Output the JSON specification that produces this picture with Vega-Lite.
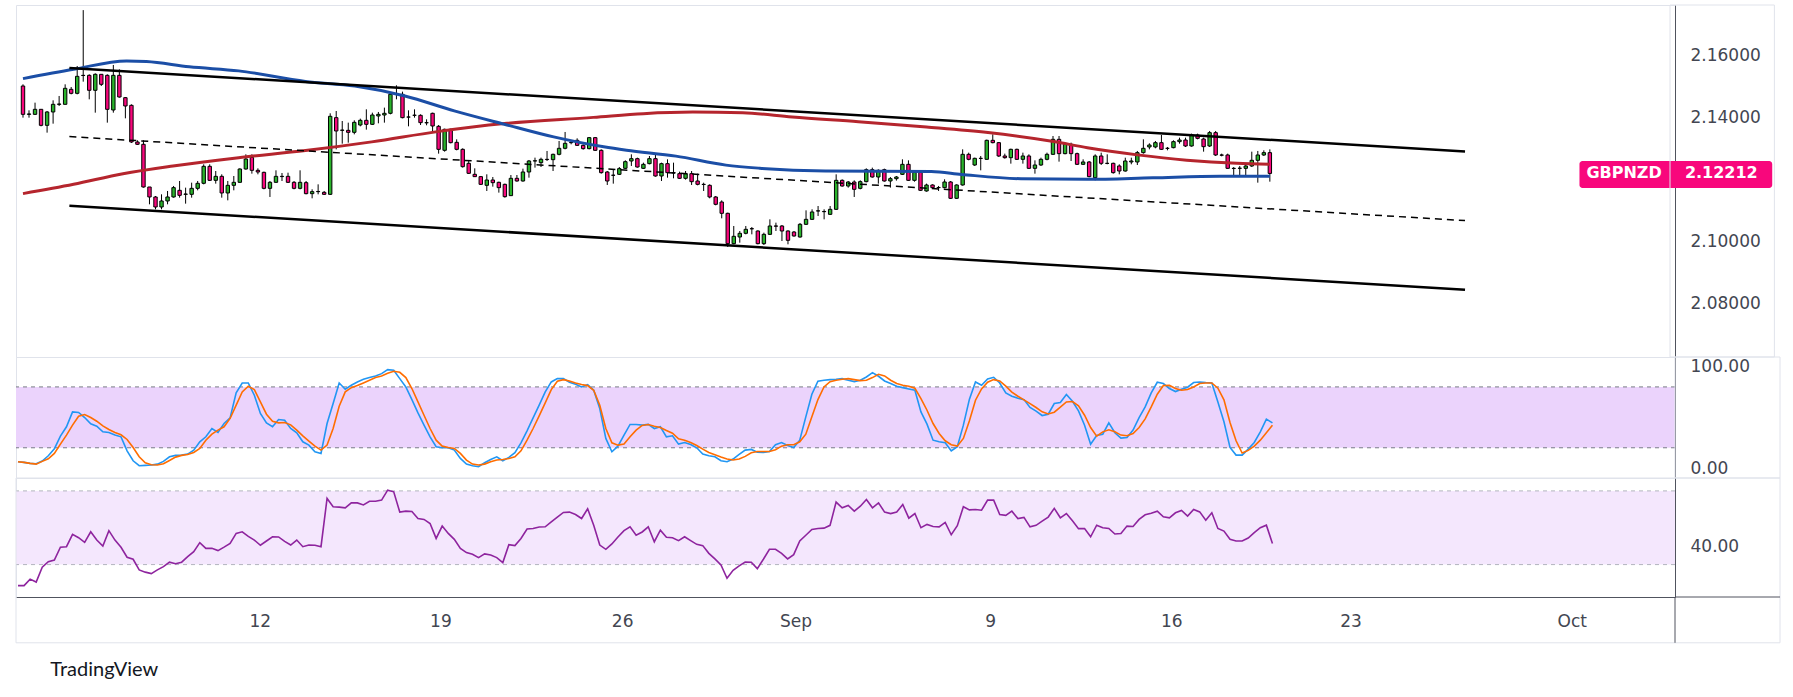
{
  "$schema": "https://vega.github.io/schema/vega-lite/v6.json",
  "background": "#ffffff",
  "padding": {"left": 14, "top": 4, "right": 5, "bottom": 5},
  "spacing": 0,
  "bounds": "flush",
  "title": {
    "text": "TradingView",
    "orient": "bottom",
    "anchor": "start",
    "font": "Lato",
    "fontSize": 20,
    "fontWeight": "normal",
    "color": "#131722",
    "offset": 16,
    "dx": 36
  },
  "config": {
    "view": {"stroke": "#e0e3eb", "strokeWidth": 1},
    "axis": {
      "labelFont": "DejaVu Sans",
      "labelFontSize": 17,
      "labelColor": "#434651",
      "ticks": false,
      "tickSize": 0,
      "grid": false,
      "domainColor": "#50535e",
      "labelOverlap": false,
      "zindex": 1
    }
  },
  "resolve": {"scale": {"x": "independent", "y": "independent"}},
  "datasets": {
    "bars": [
      {"i":0,"o":2.15032,"h":2.15086,"l":2.14011,"c":2.14118,"k":6.2,"d":6.2,"r":18.6},
      {"i":1,"o":2.14118,"h":2.14247,"l":2.14011,"c":2.1413,"k":5.6,"d":5.6,"r":18.6},
      {"i":2,"o":2.14118,"h":2.14495,"l":2.14097,"c":2.1428,"k":4.6,"d":4.6,"r":22.1},
      {"i":3,"o":2.1428,"h":2.1428,"l":2.13731,"c":2.13763,"k":4.3,"d":3.9,"r":20.5},
      {"i":4,"o":2.13763,"h":2.14226,"l":2.13527,"c":2.14194,"k":6.9,"d":6.6,"r":28.6},
      {"i":5,"o":2.14194,"h":2.1457,"l":2.13817,"c":2.14441,"k":12.1,"d":9.2,"r":31.6},
      {"i":6,"o":2.14441,"h":2.1471,"l":2.14387,"c":2.1445,"k":19.0,"d":14.4,"r":32.5},
      {"i":7,"o":2.14441,"h":2.15086,"l":2.14441,"c":2.14957,"k":31.5,"d":23.6,"r":39.4},
      {"i":8,"o":2.14925,"h":2.15,"l":2.14763,"c":2.14796,"k":40.7,"d":32.5,"r":39.7},
      {"i":9,"o":2.14796,"h":2.15677,"l":2.14763,"c":2.15344,"k":55.4,"d":42.3,"r":46.4},
      {"i":10,"o":2.15376,"h":2.1748,"l":2.15172,"c":2.1537,"k":54.8,"d":51.1,"r":44.6},
      {"i":11,"o":2.15376,"h":2.15409,"l":2.14602,"c":2.14893,"k":49.8,"d":52.8,"r":42.1},
      {"i":12,"o":2.14893,"h":2.15441,"l":2.14172,"c":2.15409,"k":43.6,"d":49.8,"r":47.8},
      {"i":13,"o":2.15409,"h":2.15409,"l":2.15032,"c":2.15086,"k":41.3,"d":46.2,"r":43.3},
      {"i":14,"o":2.15376,"h":2.15409,"l":2.1385,"c":2.1428,"k":35.7,"d":41.6,"r":40.1},
      {"i":15,"o":2.14258,"h":2.1571,"l":2.14172,"c":2.15376,"k":35.1,"d":38.0,"r":48.4},
      {"i":16,"o":2.15376,"h":2.1557,"l":2.14656,"c":2.14677,"k":32.5,"d":35.1,"r":43.3},
      {"i":17,"o":2.14656,"h":2.14677,"l":2.13989,"c":2.14387,"k":30.8,"d":32.8,"r":39.4},
      {"i":18,"o":2.14409,"h":2.14441,"l":2.13194,"c":2.13226,"k":17.0,"d":28.2,"r":34.0},
      {"i":19,"o":2.13226,"h":2.1328,"l":2.13129,"c":2.13151,"k":7.2,"d":20.3,"r":32.9},
      {"i":20,"o":2.13151,"h":2.1328,"l":2.11753,"c":2.11774,"k":2.3,"d":11.1,"r":27.1},
      {"i":21,"o":2.11774,"h":2.11774,"l":2.11215,"c":2.11452,"k":2.6,"d":5.2,"r":25.9},
      {"i":22,"o":2.11452,"h":2.11484,"l":2.11054,"c":2.11129,"k":3.0,"d":3.3,"r":25.1},
      {"i":23,"o":2.11129,"h":2.11538,"l":2.11054,"c":2.11323,"k":3.9,"d":3.0,"r":27.1},
      {"i":24,"o":2.11323,"h":2.11645,"l":2.11215,"c":2.11452,"k":6.6,"d":4.3,"r":28.9},
      {"i":25,"o":2.11452,"h":2.11807,"l":2.1143,"c":2.11753,"k":11.1,"d":7.5,"r":31.3},
      {"i":26,"o":2.11667,"h":2.11968,"l":2.1143,"c":2.11505,"k":12.5,"d":10.8,"r":30.5},
      {"i":27,"o":2.11538,"h":2.11753,"l":2.11237,"c":2.11548,"k":12.8,"d":12.5,"r":31.3},
      {"i":28,"o":2.11538,"h":2.11914,"l":2.1143,"c":2.11731,"k":13.8,"d":13.4,"r":34.3},
      {"i":29,"o":2.11731,"h":2.11968,"l":2.11667,"c":2.11893,"k":17.7,"d":15.4,"r":37.0},
      {"i":30,"o":2.11893,"h":2.12505,"l":2.1186,"c":2.12441,"k":25.9,"d":19.3,"r":41.9},
      {"i":31,"o":2.12441,"h":2.12505,"l":2.11968,"c":2.11989,"k":30.8,"d":27.5,"r":38.8},
      {"i":32,"o":2.11989,"h":2.1229,"l":2.11882,"c":2.12118,"k":39.0,"d":33.4,"r":38.8},
      {"i":33,"o":2.12118,"h":2.12183,"l":2.1143,"c":2.11581,"k":35.1,"d":37.4,"r":37.6},
      {"i":34,"o":2.11581,"h":2.11968,"l":2.11344,"c":2.11828,"k":43.9,"d":40.7,"r":39.5},
      {"i":35,"o":2.11828,"h":2.12129,"l":2.11667,"c":2.11925,"k":49.5,"d":48.9,"r":41.5},
      {"i":36,"o":2.11925,"h":2.12376,"l":2.11914,"c":2.12355,"k":74.1,"d":62.0,"r":46.9},
      {"i":37,"o":2.12355,"h":2.12828,"l":2.12333,"c":2.12678,"k":83.9,"d":75.1,"r":47.8},
      {"i":38,"o":2.12731,"h":2.12828,"l":2.12204,"c":2.12312,"k":83.9,"d":80.7,"r":45.3},
      {"i":39,"o":2.12312,"h":2.12376,"l":2.12183,"c":2.12258,"k":71.8,"d":77.4,"r":43.3},
      {"i":40,"o":2.12247,"h":2.12269,"l":2.11699,"c":2.11731,"k":53.8,"d":65.2,"r":40.5},
      {"i":41,"o":2.11731,"h":2.11968,"l":2.11452,"c":2.11925,"k":44.6,"d":53.1,"r":42.8},
      {"i":42,"o":2.11925,"h":2.12312,"l":2.11914,"c":2.12118,"k":40.7,"d":46.2,"r":45.1},
      {"i":43,"o":2.12118,"h":2.12226,"l":2.11968,"c":2.1211,"k":47.9,"d":44.6,"r":45.0},
      {"i":44,"o":2.12118,"h":2.12236,"l":2.11903,"c":2.11925,"k":47.2,"d":44.9,"r":42.6},
      {"i":45,"o":2.11925,"h":2.11968,"l":2.11699,"c":2.11731,"k":39.0,"d":42.6,"r":40.6},
      {"i":46,"o":2.11731,"h":2.12312,"l":2.11699,"c":2.11925,"k":34.8,"d":37.4,"r":43.3},
      {"i":47,"o":2.11914,"h":2.11968,"l":2.11538,"c":2.11559,"k":25.9,"d":31.8,"r":39.7},
      {"i":48,"o":2.11559,"h":2.11699,"l":2.11409,"c":2.11624,"k":22.6,"d":26.6,"r":40.6},
      {"i":49,"o":2.11624,"h":2.1186,"l":2.11538,"c":2.1163,"k":16.1,"d":21.6,"r":40.5},
      {"i":50,"o":2.11602,"h":2.11645,"l":2.11516,"c":2.11538,"k":14.4,"d":17.7,"r":39.7},
      {"i":51,"o":2.11538,"h":2.14151,"l":2.11516,"c":2.14054,"k":43.9,"d":22.6,"r":65.9},
      {"i":52,"o":2.14011,"h":2.14226,"l":2.12989,"c":2.13581,"k":63.6,"d":39.0,"r":61.4},
      {"i":53,"o":2.13602,"h":2.13903,"l":2.13172,"c":2.1361,"k":83.9,"d":61.0,"r":61.2},
      {"i":54,"o":2.13602,"h":2.1385,"l":2.13204,"c":2.13538,"k":77.7,"d":75.1,"r":60.8},
      {"i":55,"o":2.13538,"h":2.13925,"l":2.13473,"c":2.1386,"k":81.6,"d":79.3,"r":63.5},
      {"i":56,"o":2.13774,"h":2.13979,"l":2.13731,"c":2.13925,"k":84.9,"d":81.3,"r":63.5},
      {"i":57,"o":2.13925,"h":2.1428,"l":2.13624,"c":2.13796,"k":87.5,"d":83.9,"r":62.4},
      {"i":58,"o":2.13796,"h":2.14172,"l":2.13774,"c":2.14097,"k":89.2,"d":86.6,"r":64.4},
      {"i":59,"o":2.14065,"h":2.14194,"l":2.13828,"c":2.14118,"k":90.8,"d":89.2,"r":64.4},
      {"i":60,"o":2.14097,"h":2.14334,"l":2.1385,"c":2.14151,"k":93.1,"d":90.8,"r":65.0},
      {"i":61,"o":2.14151,"h":2.14785,"l":2.14118,"c":2.14764,"k":97.0,"d":93.4,"r":70.4},
      {"i":62,"o":2.14764,"h":2.15054,"l":2.14602,"c":2.1477,"k":96.4,"d":95.4,"r":69.5},
      {"i":63,"o":2.14764,"h":2.1485,"l":2.13989,"c":2.14011,"k":88.2,"d":94.4,"r":58.5},
      {"i":64,"o":2.14032,"h":2.14247,"l":2.13731,"c":2.1403,"k":80.0,"d":89.2,"r":59.0},
      {"i":65,"o":2.14086,"h":2.1428,"l":2.14011,"c":2.1409,"k":67.5,"d":78.4,"r":58.8},
      {"i":66,"o":2.14086,"h":2.14118,"l":2.13774,"c":2.1385,"k":54.4,"d":65.2,"r":55.0},
      {"i":67,"o":2.1385,"h":2.13957,"l":2.13764,"c":2.13845,"k":42.3,"d":52.1,"r":54.5},
      {"i":68,"o":2.14151,"h":2.14172,"l":2.13559,"c":2.13742,"k":30.8,"d":39.0,"r":52.3},
      {"i":69,"o":2.13731,"h":2.13774,"l":2.1285,"c":2.12989,"k":21.0,"d":27.5,"r":44.2},
      {"i":70,"o":2.12957,"h":2.13656,"l":2.12914,"c":2.13635,"k":20.0,"d":21.6,"r":50.9},
      {"i":71,"o":2.13635,"h":2.13656,"l":2.13183,"c":2.13204,"k":20.0,"d":20.3,"r":46.9},
      {"i":72,"o":2.13215,"h":2.13312,"l":2.12957,"c":2.12989,"k":17.7,"d":19.3,"r":43.7},
      {"i":73,"o":2.12989,"h":2.13022,"l":2.12398,"c":2.1243,"k":9.5,"d":14.4,"r":38.8},
      {"i":74,"o":2.12538,"h":2.12645,"l":2.12194,"c":2.12215,"k":3.9,"d":7.9,"r":36.5},
      {"i":75,"o":2.12183,"h":2.12376,"l":2.12097,"c":2.12108,"k":2.3,"d":3.9,"r":35.6},
      {"i":76,"o":2.12108,"h":2.12129,"l":2.11839,"c":2.1186,"k":1.3,"d":3.0,"r":33.8},
      {"i":77,"o":2.11828,"h":2.12183,"l":2.11645,"c":2.12,"k":5.2,"d":3.9,"r":35.8},
      {"i":78,"o":2.12,"h":2.12097,"l":2.11785,"c":2.11914,"k":8.5,"d":6.2,"r":35.2},
      {"i":79,"o":2.11925,"h":2.11946,"l":2.11592,"c":2.11753,"k":11.1,"d":7.9,"r":33.8},
      {"i":80,"o":2.1186,"h":2.11882,"l":2.1143,"c":2.11462,"k":7.2,"d":8.5,"r":31.1},
      {"i":81,"o":2.11495,"h":2.12161,"l":2.11484,"c":2.12054,"k":10.5,"d":9.5,"r":40.8},
      {"i":82,"o":2.12054,"h":2.12161,"l":2.11946,"c":2.11968,"k":15.1,"d":11.1,"r":40.3},
      {"i":83,"o":2.11968,"h":2.12366,"l":2.11946,"c":2.12258,"k":24.9,"d":17.0,"r":44.2},
      {"i":84,"o":2.12258,"h":2.12645,"l":2.12075,"c":2.12613,"k":36.7,"d":27.5,"r":49.3},
      {"i":85,"o":2.12613,"h":2.12721,"l":2.12398,"c":2.1262,"k":49.5,"d":39.0,"r":49.6},
      {"i":86,"o":2.12559,"h":2.12721,"l":2.12419,"c":2.12667,"k":62.0,"d":51.5,"r":50.4},
      {"i":87,"o":2.12667,"h":2.12936,"l":2.12613,"c":2.1266,"k":75.1,"d":64.3,"r":50.5},
      {"i":88,"o":2.12656,"h":2.1285,"l":2.1229,"c":2.12828,"k":84.9,"d":77.4,"r":53.2},
      {"i":89,"o":2.12828,"h":2.13258,"l":2.12796,"c":2.13022,"k":88.2,"d":85.6,"r":55.8},
      {"i":90,"o":2.13022,"h":2.13549,"l":2.12989,"c":2.13183,"k":88.2,"d":87.2,"r":58.3},
      {"i":91,"o":2.13204,"h":2.1328,"l":2.13151,"c":2.1321,"k":84.6,"d":85.9,"r":58.5},
      {"i":92,"o":2.1328,"h":2.13344,"l":2.13097,"c":2.13118,"k":82.6,"d":83.9,"r":57.2},
      {"i":93,"o":2.13118,"h":2.13151,"l":2.12979,"c":2.13011,"k":80.0,"d":82.3,"r":55.0},
      {"i":94,"o":2.13011,"h":2.13387,"l":2.12989,"c":2.13366,"k":82.3,"d":81.3,"r":60.3},
      {"i":95,"o":2.13366,"h":2.13387,"l":2.12936,"c":2.12957,"k":76.7,"d":76.7,"r":51.4},
      {"i":96,"o":2.12957,"h":2.12989,"l":2.12204,"c":2.12237,"k":58.7,"d":62.0,"r":40.6},
      {"i":97,"o":2.12258,"h":2.1229,"l":2.11839,"c":2.11968,"k":29.2,"d":39.0,"r":38.3},
      {"i":98,"o":2.12151,"h":2.12344,"l":2.11882,"c":2.12155,"k":16.1,"d":24.9,"r":41.2},
      {"i":99,"o":2.12183,"h":2.12419,"l":2.12161,"c":2.12366,"k":21.6,"d":22.6,"r":45.0},
      {"i":100,"o":2.12376,"h":2.12634,"l":2.12355,"c":2.12591,"k":32.5,"d":23.6,"r":48.4},
      {"i":101,"o":2.12613,"h":2.12828,"l":2.12452,"c":2.12688,"k":43.0,"d":30.8,"r":50.5},
      {"i":102,"o":2.12688,"h":2.1272,"l":2.12398,"c":2.12419,"k":43.0,"d":37.4,"r":45.9},
      {"i":103,"o":2.12376,"h":2.12559,"l":2.12355,"c":2.12505,"k":42.3,"d":42.0,"r":47.7},
      {"i":104,"o":2.12527,"h":2.12774,"l":2.12505,"c":2.12688,"k":43.0,"d":43.0,"r":50.5},
      {"i":105,"o":2.12688,"h":2.12806,"l":2.12107,"c":2.12129,"k":39.0,"d":41.3,"r":42.4},
      {"i":106,"o":2.12129,"h":2.12559,"l":2.11968,"c":2.12527,"k":40.7,"d":40.0,"r":48.7},
      {"i":107,"o":2.12527,"h":2.12667,"l":2.12075,"c":2.12237,"k":30.8,"d":37.0,"r":44.8},
      {"i":108,"o":2.12237,"h":2.12559,"l":2.12054,"c":2.1223,"k":31.8,"d":34.4,"r":44.6},
      {"i":109,"o":2.12204,"h":2.12269,"l":2.12032,"c":2.12054,"k":23.6,"d":28.9,"r":43.0},
      {"i":110,"o":2.12054,"h":2.1229,"l":2.12011,"c":2.12204,"k":25.2,"d":27.5,"r":45.1},
      {"i":111,"o":2.12204,"h":2.1229,"l":2.11839,"c":2.11946,"k":23.3,"d":25.2,"r":43.0},
      {"i":112,"o":2.11968,"h":2.12204,"l":2.11828,"c":2.1186,"k":20.0,"d":22.3,"r":41.0},
      {"i":113,"o":2.1186,"h":2.11914,"l":2.11645,"c":2.11855,"k":13.8,"d":18.7,"r":40.3},
      {"i":114,"o":2.11828,"h":2.1186,"l":2.11409,"c":2.11452,"k":12.1,"d":15.4,"r":36.1},
      {"i":115,"o":2.11452,"h":2.11484,"l":2.11183,"c":2.11215,"k":11.1,"d":13.1,"r":33.1},
      {"i":116,"o":2.1129,"h":2.11344,"l":2.10763,"c":2.10925,"k":7.2,"d":10.8,"r":29.8},
      {"i":117,"o":2.10925,"h":2.10946,"l":2.09838,"c":2.09946,"k":6.2,"d":8.9,"r":22.6},
      {"i":118,"o":2.09946,"h":2.10516,"l":2.09925,"c":2.10183,"k":8.9,"d":7.9,"r":26.9},
      {"i":119,"o":2.10161,"h":2.10355,"l":2.09978,"c":2.1028,"k":13.4,"d":8.9,"r":29.3},
      {"i":120,"o":2.1028,"h":2.10516,"l":2.10247,"c":2.10409,"k":17.7,"d":11.5,"r":31.4},
      {"i":121,"o":2.1043,"h":2.10484,"l":2.10247,"c":2.10425,"k":18.4,"d":15.1,"r":31.3},
      {"i":122,"o":2.10355,"h":2.10376,"l":2.09925,"c":2.09946,"k":15.7,"d":16.4,"r":27.8},
      {"i":123,"o":2.09946,"h":2.10301,"l":2.09903,"c":2.10247,"k":15.4,"d":16.4,"r":32.9},
      {"i":124,"o":2.10247,"h":2.10731,"l":2.10226,"c":2.10516,"k":16.4,"d":16.4,"r":38.3},
      {"i":125,"o":2.10516,"h":2.10624,"l":2.10355,"c":2.1051,"k":23.0,"d":18.0,"r":38.3},
      {"i":126,"o":2.10516,"h":2.10548,"l":2.10032,"c":2.10355,"k":25.2,"d":21.6,"r":36.1},
      {"i":127,"o":2.10355,"h":2.10376,"l":2.09925,"c":2.10054,"k":22.3,"d":23.0,"r":33.1},
      {"i":128,"o":2.10322,"h":2.10355,"l":2.10172,"c":2.10194,"k":20.3,"d":23.0,"r":35.4},
      {"i":129,"o":2.10161,"h":2.10613,"l":2.1014,"c":2.1057,"k":27.5,"d":25.9,"r":42.8},
      {"i":130,"o":2.1057,"h":2.11021,"l":2.10548,"c":2.10731,"k":50.5,"d":33.4,"r":45.9},
      {"i":131,"o":2.10731,"h":2.11054,"l":2.1071,"c":2.10968,"k":72.8,"d":50.5,"r":49.1},
      {"i":132,"o":2.11,"h":2.11161,"l":2.10839,"c":2.11005,"k":85.6,"d":67.5,"r":49.6},
      {"i":133,"o":2.10978,"h":2.11054,"l":2.10731,"c":2.10985,"k":86.6,"d":80.0,"r":49.8},
      {"i":134,"o":2.10892,"h":2.11161,"l":2.10871,"c":2.11054,"k":87.2,"d":85.2,"r":51.3},
      {"i":135,"o":2.11054,"h":2.12183,"l":2.11032,"c":2.11989,"k":87.5,"d":86.6,"r":63.9},
      {"i":136,"o":2.11989,"h":2.12021,"l":2.11785,"c":2.11806,"k":88.2,"d":87.5,"r":60.8},
      {"i":137,"o":2.11806,"h":2.11968,"l":2.11753,"c":2.11935,"k":86.6,"d":88.2,"r":62.1},
      {"i":138,"o":2.11935,"h":2.11989,"l":2.11452,"c":2.11699,"k":85.2,"d":87.2,"r":59.0},
      {"i":139,"o":2.11731,"h":2.11989,"l":2.11699,"c":2.11946,"k":86.6,"d":86.2,"r":61.7},
      {"i":140,"o":2.11946,"h":2.12376,"l":2.11925,"c":2.12333,"k":89.8,"d":86.6,"r":65.3},
      {"i":141,"o":2.12333,"h":2.12398,"l":2.12075,"c":2.12097,"k":94.1,"d":89.2,"r":60.8},
      {"i":142,"o":2.12097,"h":2.12344,"l":2.11882,"c":2.12312,"k":90.5,"d":92.5,"r":63.5},
      {"i":143,"o":2.12333,"h":2.12366,"l":2.11946,"c":2.11968,"k":85.9,"d":90.8,"r":58.5},
      {"i":144,"o":2.11968,"h":2.12097,"l":2.11753,"c":2.12043,"k":83.3,"d":86.6,"r":57.7},
      {"i":145,"o":2.12043,"h":2.12129,"l":2.1198,"c":2.12097,"k":80.7,"d":83.3,"r":58.5},
      {"i":146,"o":2.12183,"h":2.12667,"l":2.12161,"c":2.12505,"k":79.3,"d":81.6,"r":62.6},
      {"i":147,"o":2.12505,"h":2.12634,"l":2.11968,"c":2.11989,"k":78.0,"d":80.7,"r":55.2},
      {"i":148,"o":2.11989,"h":2.1229,"l":2.11946,"c":2.12247,"k":76.7,"d":78.7,"r":57.7},
      {"i":149,"o":2.12247,"h":2.1229,"l":2.11645,"c":2.11667,"k":55.4,"d":68.5,"r":50.0},
      {"i":150,"o":2.11645,"h":2.11882,"l":2.11624,"c":2.11839,"k":43.3,"d":57.0,"r":51.8},
      {"i":151,"o":2.11839,"h":2.1186,"l":2.11731,"c":2.11753,"k":27.5,"d":43.9,"r":50.7},
      {"i":152,"o":2.11753,"h":2.11807,"l":2.11645,"c":2.11758,"k":25.9,"d":34.1,"r":50.5},
      {"i":153,"o":2.11753,"h":2.12022,"l":2.11731,"c":2.11936,"k":24.9,"d":26.9,"r":52.9},
      {"i":154,"o":2.11936,"h":2.11968,"l":2.11387,"c":2.11409,"k":17.0,"d":23.0,"r":46.2},
      {"i":155,"o":2.11409,"h":2.1186,"l":2.11387,"c":2.11839,"k":21.0,"d":21.6,"r":51.1},
      {"i":156,"o":2.11839,"h":2.12989,"l":2.11817,"c":2.12828,"k":42.3,"d":29.2,"r":61.4},
      {"i":157,"o":2.12828,"h":2.12882,"l":2.12635,"c":2.12667,"k":67.9,"d":46.6,"r":59.7},
      {"i":158,"o":2.12484,"h":2.1272,"l":2.12452,"c":2.12699,"k":84.9,"d":66.9,"r":59.9},
      {"i":159,"o":2.12699,"h":2.12774,"l":2.12312,"c":2.12695,"k":81.6,"d":78.0,"r":59.5},
      {"i":160,"o":2.12667,"h":2.13301,"l":2.12656,"c":2.1328,"k":87.9,"d":84.6,"r":65.0},
      {"i":161,"o":2.1328,"h":2.13473,"l":2.13183,"c":2.13204,"k":89.5,"d":87.2,"r":65.0},
      {"i":162,"o":2.13204,"h":2.13226,"l":2.12742,"c":2.12774,"k":83.9,"d":85.9,"r":57.2},
      {"i":163,"o":2.12774,"h":2.1285,"l":2.12688,"c":2.1272,"k":74.1,"d":80.7,"r":56.7},
      {"i":164,"o":2.1272,"h":2.13011,"l":2.12527,"c":2.12989,"k":70.8,"d":74.8,"r":59.0},
      {"i":165,"o":2.12989,"h":2.13011,"l":2.12645,"c":2.12667,"k":68.9,"d":70.8,"r":55.0},
      {"i":166,"o":2.12667,"h":2.12882,"l":2.12527,"c":2.12774,"k":67.5,"d":67.2,"r":55.6},
      {"i":167,"o":2.12774,"h":2.12828,"l":2.12355,"c":2.12376,"k":59.7,"d":63.6,"r":50.5},
      {"i":168,"o":2.12376,"h":2.12634,"l":2.12204,"c":2.12484,"k":56.1,"d":59.7,"r":51.3},
      {"i":169,"o":2.12484,"h":2.1272,"l":2.12452,"c":2.12667,"k":51.8,"d":55.4,"r":53.6},
      {"i":170,"o":2.12667,"h":2.12882,"l":2.12635,"c":2.12828,"k":53.1,"d":53.4,"r":55.8},
      {"i":171,"o":2.12828,"h":2.13419,"l":2.12807,"c":2.13312,"k":63.6,"d":55.1,"r":60.5},
      {"i":172,"o":2.13312,"h":2.13419,"l":2.12592,"c":2.1285,"k":64.6,"d":60.0,"r":55.4},
      {"i":173,"o":2.1285,"h":2.13204,"l":2.12828,"c":2.13151,"k":72.5,"d":65.2,"r":57.7},
      {"i":174,"o":2.13151,"h":2.13204,"l":2.12613,"c":2.1285,"k":65.9,"d":65.6,"r":53.8},
      {"i":175,"o":2.1285,"h":2.12882,"l":2.12484,"c":2.12506,"k":56.4,"d":61.3,"r":49.5},
      {"i":176,"o":2.12506,"h":2.12667,"l":2.12484,"c":2.12581,"k":42.3,"d":52.1,"r":49.6},
      {"i":177,"o":2.12581,"h":2.12613,"l":2.12086,"c":2.12108,"k":23.6,"d":40.0,"r":45.1},
      {"i":178,"o":2.12075,"h":2.12828,"l":2.11989,"c":2.12774,"k":32.1,"d":31.5,"r":51.4},
      {"i":179,"o":2.12774,"h":2.12882,"l":2.12484,"c":2.12538,"k":33.4,"d":35.7,"r":50.0},
      {"i":180,"o":2.12538,"h":2.12828,"l":2.12506,"c":2.12535,"k":44.6,"d":37.7,"r":49.6},
      {"i":181,"o":2.12538,"h":2.12559,"l":2.12204,"c":2.12237,"k":34.8,"d":35.7,"r":46.6},
      {"i":182,"o":2.12452,"h":2.12506,"l":2.12183,"c":2.1229,"k":29.5,"d":32.5,"r":46.9},
      {"i":183,"o":2.1229,"h":2.1272,"l":2.12269,"c":2.12613,"k":30.2,"d":31.8,"r":50.9},
      {"i":184,"o":2.12581,"h":2.1272,"l":2.12506,"c":2.12613,"k":37.4,"d":34.1,"r":50.7},
      {"i":185,"o":2.12581,"h":2.12936,"l":2.12484,"c":2.12882,"k":49.8,"d":40.0,"r":54.5},
      {"i":186,"o":2.12882,"h":2.13312,"l":2.1285,"c":2.13022,"k":60.3,"d":48.5,"r":57.0},
      {"i":187,"o":2.13065,"h":2.13183,"l":2.12989,"c":2.13129,"k":74.1,"d":60.3,"r":57.9},
      {"i":188,"o":2.13065,"h":2.13258,"l":2.13022,"c":2.13204,"k":84.6,"d":72.8,"r":59.0},
      {"i":189,"o":2.13204,"h":2.13452,"l":2.12968,"c":2.12989,"k":83.3,"d":81.3,"r":55.9},
      {"i":190,"o":2.13022,"h":2.13065,"l":2.12957,"c":2.1302,"k":78.4,"d":81.6,"r":55.4},
      {"i":191,"o":2.13043,"h":2.1328,"l":2.13022,"c":2.13237,"k":75.4,"d":78.4,"r":58.1},
      {"i":192,"o":2.13237,"h":2.13366,"l":2.13172,"c":2.1329,"k":77.7,"d":76.7,"r":59.4},
      {"i":193,"o":2.1329,"h":2.13366,"l":2.13065,"c":2.13097,"k":79.7,"d":77.4,"r":56.3},
      {"i":194,"o":2.13097,"h":2.13495,"l":2.13075,"c":2.13452,"k":84.3,"d":80.0,"r":59.9},
      {"i":195,"o":2.13452,"h":2.13495,"l":2.13312,"c":2.13344,"k":84.9,"d":83.3,"r":58.6},
      {"i":196,"o":2.13323,"h":2.13366,"l":2.12914,"c":2.13075,"k":84.3,"d":83.9,"r":54.1},
      {"i":197,"o":2.13097,"h":2.13581,"l":2.13065,"c":2.13527,"k":83.9,"d":83.9,"r":58.1},
      {"i":198,"o":2.13527,"h":2.13581,"l":2.12774,"c":2.12807,"k":65.2,"d":78.7,"r":49.6},
      {"i":199,"o":2.12807,"h":2.1285,"l":2.12763,"c":2.128,"k":45.6,"d":67.2,"r":48.2},
      {"i":200,"o":2.12807,"h":2.1285,"l":2.12355,"c":2.12376,"k":20.3,"d":44.9,"r":43.7},
      {"i":201,"o":2.12376,"h":2.12419,"l":2.12108,"c":2.1237,"k":12.8,"d":26.9,"r":42.8},
      {"i":202,"o":2.12376,"h":2.12452,"l":2.12161,"c":2.1238,"k":12.8,"d":14.8,"r":42.8},
      {"i":203,"o":2.12376,"h":2.12506,"l":2.12161,"c":2.12452,"k":18.7,"d":17.4,"r":44.4},
      {"i":204,"o":2.12452,"h":2.12914,"l":2.12419,"c":2.12635,"k":25.2,"d":21.6,"r":47.3},
      {"i":205,"o":2.12635,"h":2.12936,"l":2.11914,"c":2.12807,"k":35.7,"d":27.5,"r":50.0},
      {"i":206,"o":2.12807,"h":2.12957,"l":2.12774,"c":2.12882,"k":48.2,"d":34.8,"r":51.4},
      {"i":207,"o":2.12882,"h":2.12989,"l":2.11946,"c":2.12212,"k":44.6,"d":42.3,"r":41.5}
    ],
    "ma": [
      {"s":"b","i":0,"v":2.1527},{"s":"b","i":8.4,"v":2.1557},{"s":"b","i":17.2,"v":2.1584},{"s":"b","i":20.5,"v":2.1582},
      {"s":"b","i":27.6,"v":2.1565},{"s":"b","i":35.8,"v":2.1552},{"s":"b","i":46.9,"v":2.1518},{"s":"b","i":55.1,"v":2.1503},
      {"s":"b","i":63.4,"v":2.1471},{"s":"b","i":71.6,"v":2.1423},{"s":"b","i":79.9,"v":2.138},{"s":"b","i":88.1,"v":2.1339},
      {"s":"b","i":96.4,"v":2.1307},{"s":"b","i":100.2,"v":2.1296},{"s":"b","i":108.4,"v":2.1277},{"s":"b","i":116.7,"v":2.1248},
      {"s":"b","i":122.3,"v":2.1238},{"s":"b","i":133.2,"v":2.1229},{"s":"b","i":150.8,"v":2.1227},{"s":"b","i":155.8,"v":2.1218},
      {"s":"b","i":165.7,"v":2.1204},{"s":"b","i":176.7,"v":2.1202},{"s":"b","i":187.6,"v":2.1207},{"s":"b","i":198.7,"v":2.1212},
      {"s":"b","i":207,"v":2.1212},
      {"s":"r","i":0,"v":2.1156},{"s":"r","i":8.4,"v":2.1186},{"s":"r","i":16.6,"v":2.122},{"s":"r","i":24.9,"v":2.1245},
      {"s":"r","i":35.8,"v":2.1272},{"s":"r","i":46.9,"v":2.1295},{"s":"r","i":57.9,"v":2.1323},{"s":"r","i":68.8,"v":2.1356},
      {"s":"r","i":79.9,"v":2.1382},{"s":"r","i":94.7,"v":2.1402},{"s":"r","i":103,"v":2.1414},{"s":"r","i":111.2,"v":2.1419},
      {"s":"r","i":119.5,"v":2.1417},{"s":"r","i":127.7,"v":2.1403},{"s":"r","i":138.7,"v":2.1388},{"s":"r","i":150,"v":2.1371},
      {"s":"r","i":160.2,"v":2.1353},{"s":"r","i":171.1,"v":2.1324},{"s":"r","i":176.7,"v":2.1304},{"s":"r","i":185,"v":2.1281},
      {"s":"r","i":193.2,"v":2.1264},{"s":"r","i":201.5,"v":2.1254},{"s":"r","i":207,"v":2.1251}
    ],
    "trend": [
      {"id":"upper","dash":0,"i":7.7,"v":2.1561},{"id":"upper","dash":0,"i":239.4,"v":2.1292},
      {"id":"lower","dash":0,"i":7.7,"v":2.1117},{"id":"lower","dash":0,"i":239.4,"v":2.0846},
      {"id":"mid","dash":1,"i":7.7,"v":2.134},{"id":"mid","dash":1,"i":239.4,"v":2.1069}
    ]
  },
  "vconcat": [
    {
      "width": 1659,
      "height": 352,
      "layer": [
        {
          "data": {"name": "bars"},
          "mark": {"type": "rule", "color": "#000000", "strokeWidth": 1},
          "encoding": {
            "x": {"field": "i", "type": "quantitative", "title": null, "axis": null,
                  "scale": {"domain": [-0.33, 273.43], "nice": false, "zero": false}},
            "y": {"field": "l", "type": "quantitative", "title": null,
                  "scale": {"domain": [2.0629, 2.17645], "nice": false, "zero": false},
                  "axis": {"orient": "right", "values": [2.08, 2.1, 2.14, 2.16], "format": ".5f",
                           "labelPadding": 15, "labelAlign": "left", "labelBaseline": "middle"}},
            "y2": {"field": "h"}
          }
        },
        {
          "data": {"name": "bars"},
          "mark": {"type": "bar", "size": 3.4, "stroke": "#000000", "strokeWidth": 1},
          "encoding": {
            "x": {"field": "i", "type": "quantitative", "title": null},
            "y": {"field": "o", "type": "quantitative", "title": null},
            "y2": {"field": "c"},
            "color": {"condition": {"test": "datum.c >= datum.o", "value": "#29b32b"}, "value": "#f8077c"}
          }
        },
        {
          "data": {"name": "ma"},
          "transform": [{"filter": "datum.s == 'r'"}],
          "mark": {"type": "line", "color": "#b5252d", "strokeWidth": 3, "interpolate": "monotone"},
          "encoding": {
            "x": {"field": "i", "type": "quantitative", "title": null},
            "y": {"field": "v", "type": "quantitative", "title": null}
          }
        },
        {
          "data": {"name": "ma"},
          "transform": [{"filter": "datum.s == 'b'"}],
          "mark": {"type": "line", "color": "#1b4ea6", "strokeWidth": 3, "interpolate": "monotone"},
          "encoding": {
            "x": {"field": "i", "type": "quantitative", "title": null},
            "y": {"field": "v", "type": "quantitative", "title": null}
          }
        },
        {
          "data": {"name": "trend"},
          "transform": [{"filter": "datum.dash == 0"}],
          "mark": {"type": "line", "color": "#000000", "strokeWidth": 2.5},
          "encoding": {
            "x": {"field": "i", "type": "quantitative", "title": null},
            "y": {"field": "v", "type": "quantitative", "title": null},
            "detail": {"field": "id"}
          }
        },
        {
          "data": {"name": "trend"},
          "transform": [{"filter": "datum.dash == 1"}],
          "mark": {"type": "line", "color": "#000000", "strokeWidth": 1.5, "strokeDash": [7, 5]},
          "encoding": {
            "x": {"field": "i", "type": "quantitative", "title": null},
            "y": {"field": "v", "type": "quantitative", "title": null},
            "detail": {"field": "id"}
          }
        },
        {
          "data": {"values": [{}]},
          "mark": {"type": "rect", "color": "#f8077c", "cornerRadius": 3},
          "encoding": {
            "x": {"datum": 258.4, "type": "quantitative"}, "x2": {"datum": 290.4},
            "y": {"datum": 2.12613, "type": "quantitative"}, "y2": {"datum": 2.11742}
          }
        },
        {
          "data": {"values": [{}]},
          "mark": {"type": "text", "font": "DejaVu Sans", "fontSize": 16, "fontWeight": "bold", "color": "#ffffff", "align": "center", "baseline": "middle"},
          "encoding": {"x": {"datum": 265.8, "type": "quantitative"}, "y": {"datum": 2.12212, "type": "quantitative"}, "text": {"value": "GBPNZD"}}
        },
        {
          "data": {"values": [{}]},
          "mark": {"type": "text", "font": "DejaVu Sans", "fontSize": 16, "fontWeight": "bold", "color": "#ffffff", "align": "left", "baseline": "middle"},
          "encoding": {"x": {"datum": 275.9, "type": "quantitative"}, "y": {"datum": 2.12212, "type": "quantitative"}, "text": {"value": "2.12212"}}
        },
        {
          "data": {"values": [{}]},
          "mark": {"type": "rect", "fill": null, "stroke": "#e0e3eb", "strokeWidth": 1},
          "encoding": {
            "x": {"datum": 273.43, "type": "quantitative"}, "x2": {"datum": 290.76},
            "y": {"datum": 2.0629, "type": "quantitative"}, "y2": {"datum": 2.17645}
          }
        }
      ]
    },
    {
      "width": 1659,
      "height": 121,
      "layer": [
        {
          "data": {"values": [{"lo": 20, "hi": 80}]},
          "mark": {"type": "rect", "color": "#ebd3fc"},
          "encoding": {
            "y": {"field": "lo", "type": "quantitative", "title": null,
                  "scale": {"domain": [-9.8, 109.5], "nice": false, "zero": false},
                  "axis": {"orient": "right", "values": [0, 100], "format": ".2f",
                           "labelPadding": 15, "labelAlign": "left", "labelBaseline": "middle"}},
            "y2": {"field": "hi"}
          }
        },
        {
          "data": {"values": [{"v": 20}, {"v": 80}]},
          "mark": {"type": "rule", "color": "#787b86", "strokeWidth": 1, "strokeDash": [4, 4]},
          "encoding": {
            "y": {"field": "v", "type": "quantitative", "title": null}
          }
        },
        {
          "data": {"name": "bars"},
          "mark": {"type": "line", "color": "#2196f3", "strokeWidth": 1.6},
          "encoding": {
            "x": {"field": "i", "type": "quantitative", "title": null, "axis": null,
                  "scale": {"domain": [-0.33, 273.43], "nice": false, "zero": false}},
            "y": {"field": "k", "type": "quantitative", "title": null}
          }
        },
        {
          "data": {"name": "bars"},
          "mark": {"type": "line", "color": "#ff6d00", "strokeWidth": 1.6},
          "encoding": {
            "x": {"field": "i", "type": "quantitative", "title": null},
            "y": {"field": "d", "type": "quantitative", "title": null}
          }
        },
        {
          "data": {"values": [{}]},
          "mark": {"type": "rect", "fill": null, "stroke": "#e0e3eb", "strokeWidth": 1},
          "encoding": {
            "x": {"datum": 273.43, "type": "quantitative"}, "x2": {"datum": 290.76},
            "y": {"datum": -9.8, "type": "quantitative"}, "y2": {"datum": 109.5}
          }
        }
      ]
    },
    {
      "width": 1659,
      "height": 119,
      "layer": [
        {
          "data": {"values": [{"lo": 30, "hi": 70}]},
          "mark": {"type": "rect", "color": "#f4e7fd"},
          "encoding": {
            "y": {"field": "lo", "type": "quantitative", "title": null,
                  "scale": {"domain": [12.4, 77], "nice": false, "zero": false},
                  "axis": {"orient": "right", "values": [40], "format": ".2f",
                           "labelPadding": 15, "labelAlign": "left", "labelBaseline": "middle"}},
            "y2": {"field": "hi"}
          }
        },
        {
          "data": {"values": [{"v": 30}, {"v": 70}]},
          "mark": {"type": "rule", "color": "#b2b5be", "strokeWidth": 1, "strokeDash": [4, 4]},
          "encoding": {
            "y": {"field": "v", "type": "quantitative", "title": null}
          }
        },
        {
          "data": {"name": "bars"},
          "mark": {"type": "line", "color": "#8e249e", "strokeWidth": 1.6},
          "encoding": {
            "x": {"field": "i", "type": "quantitative", "title": null,
                  "scale": {"domain": [-0.33, 273.43], "nice": false, "zero": false},
                  "axis": {"orient": "bottom", "values": [39.9, 69.7, 99.7, 128.3, 160.4, 190.3, 219.9, 256.4],
                           "labelExpr": "datum.value < 50 ? '12' : datum.value < 80 ? '19' : datum.value < 110 ? '26' : datum.value < 140 ? 'Sep' : datum.value < 170 ? '9' : datum.value < 200 ? '16' : datum.value < 230 ? '23' : 'Oct'",
                           "labelPadding": 24, "labelBaseline": "middle", "labelAlign": "center", "labelFlush": false}},
            "y": {"field": "r", "type": "quantitative", "title": null}
          }
        },
        {
          "data": {"values": [{}]},
          "mark": {"type": "rect", "fill": null, "stroke": "#e0e3eb", "strokeWidth": 1},
          "encoding": {
            "x": {"datum": -0.33, "type": "quantitative"}, "x2": {"datum": 290.76},
            "y": {"datum": -12.46, "type": "quantitative"}, "y2": {"datum": 77}
          }
        },
        {
          "data": {"values": [{}]},
          "mark": {"type": "rule", "color": "#50535e", "strokeWidth": 1},
          "encoding": {
            "x": {"datum": 273.43, "type": "quantitative"}, "x2": {"datum": 290.76},
            "y": {"datum": 12.4, "type": "quantitative"}
          }
        },
        {
          "data": {"values": [{}]},
          "mark": {"type": "rule", "color": "#50535e", "strokeWidth": 1},
          "encoding": {
            "x": {"datum": 273.43, "type": "quantitative"},
            "y": {"datum": -12.46, "type": "quantitative"}, "y2": {"datum": 12.4}
          }
        }
      ]
    }
  ]
}
